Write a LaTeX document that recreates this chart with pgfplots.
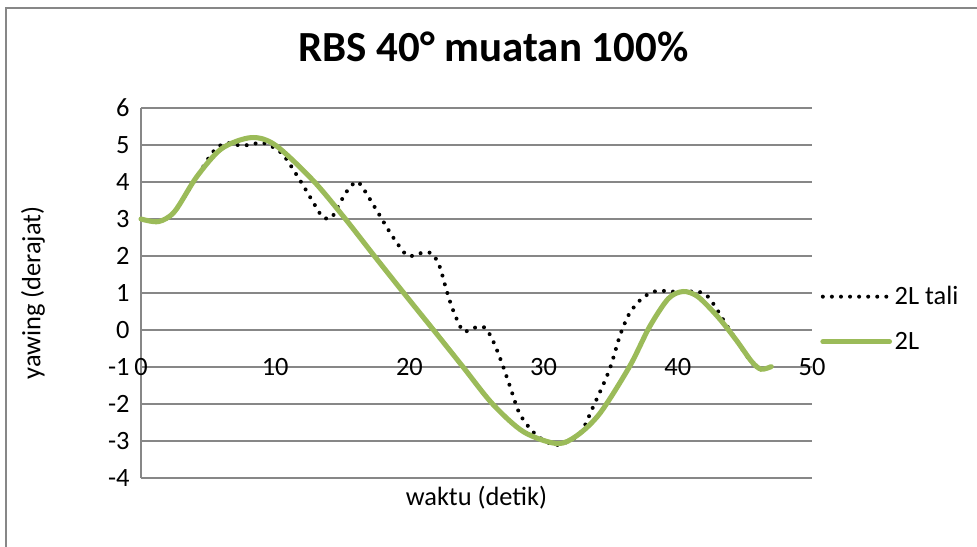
\documentclass[border=0pt]{standalone}
\usepackage{pgfplots}
\pgfplotsset{compat=1.18}
\usepackage{fontspec}
\setmainfont{Carlito}
\definecolor{olive}{HTML}{9BBB59}
\definecolor{gridgray}{HTML}{878787}
\begin{document}
\begin{tikzpicture}
\useasboundingbox (0,0) rectangle (732.75pt,-409.5pt);
\begin{scope}
\clip (0,0) rectangle (732.75pt,-409.5pt);
\draw[gridgray, line width=1.2pt] (4.5pt,-415pt) -- (4.5pt,-6pt) -- (740pt,-6pt);
\end{scope}
\begin{axis}[
  at={(105.75pt,-358.5pt)}, anchor=south west,
  scale only axis, width=503.25pt, height=277.5pt,
  xmin=0, xmax=50, ymin=-4, ymax=6,
  xtick={0,10,20,30,40,50}, ytick={-4,-3,...,6},
  axis lines*=left,
  axis line style={gridgray, line width=0.9pt, -},
  ymajorgrids, grid style={gridgray, line width=0.9pt},
  major tick length=0pt,
  /pgf/number format/assume math mode=true,
  tick label style={font=\fontsize{19.8}{24}\selectfont, text=black},
  xticklabel style={anchor=center, yshift=83.25pt},
  yticklabel style={xshift=-5pt},
  label style={font=\fontsize{19.8}{24}\selectfont},
  xlabel={waktu (detik)},
  xlabel style={at={(axis description cs:0.5,-0.054)}, anchor=center},
  ylabel={yawing (derajat)},
  ylabel style={at={(axis description cs:-0.161,0.5)}, anchor=center},
  title={\textbf{RBS 40° muatan 100\%}},
  title style={at={(axis description cs:0.525,1.143)}, anchor=center, font=\fontsize{32.2}{38}\selectfont},
  legend style={at={(axis description cs:1.012,0.43)}, anchor=west, draw=none, fill=none,
    font=\fontsize{19.8}{24}\selectfont, row sep=15pt, inner sep=0pt},
  legend cell align=left,
  legend image code/.code={\draw[#1] (0pt,0pt) -- (50pt,0pt);},
  clip=false,
]
\addplot[black, line width=3pt, line cap=round, dash pattern=on 0pt off 6.8pt, smooth, tension=0.5] coordinates {
(0,3) (1.3,2.93) (2.5,3.2) (4.3,4.22) (5.38,4.82) (6.25,5.05) (7.2,5.0) (8.1,5.0) (9.1,5.06) (10.5,4.77)
(11.84,4.05) (13.0,3.35) (13.57,3.04) (14.2,3.04) (14.8,3.42) (15.4,3.78) (16.06,4.01) (16.55,3.83)
(17.55,3.24) (18.67,2.57) (19.66,2.07) (20.15,2.0) (21.0,2.09) (21.7,2.06) (22.26,1.71) (22.76,1.08)
(23.25,0.54) (24.0,-0.03) (24.7,0.05) (25.6,0.07) (26.2,-0.27) (26.86,-0.86) (27.5,-1.53) (28.2,-2.25)
(29.2,-2.75) (30.2,-3.02) (31.2,-3.1) (32.7,-2.8) (33.7,-2.07) (34.9,-1.08) (35.7,-0.14) (36.4,0.45)
(37.2,0.81) (37.9,0.99) (38.6,1.06) (40.0,1.03) (41.4,1.04) (42.1,0.95) (42.7,0.68) (43.6,0.15)
(44.35,-0.27) (45.5,-0.88) (46.2,-1.06) (46.96,-0.99)
};
\addlegendentry{2L tali}
\addplot[olive, line width=3.8pt, line cap=round, smooth, tension=0.5] coordinates {
(0,3) (1.3,2.93) (2.5,3.2) (4.15,4.14) (6,4.9) (8.2,5.2) (10,5.0) (12.8,4.05) (15.1,3.06) (17.5,1.95)
(19.8,0.9) (21.8,0) (24,-1.0) (26.2,-2.0) (28.5,-2.75) (31,-3.07) (32.5,-2.85) (34.2,-2.25) (36.4,-0.99)
(37.9,0.09) (39.3,0.85) (40.4,1.04) (41.5,0.9) (43,0.35) (44.35,-0.27) (45.5,-0.85) (46.2,-1.06) (46.96,-0.99)
};
\addlegendentry{2L}
\end{axis}
\end{tikzpicture}
\end{document}
